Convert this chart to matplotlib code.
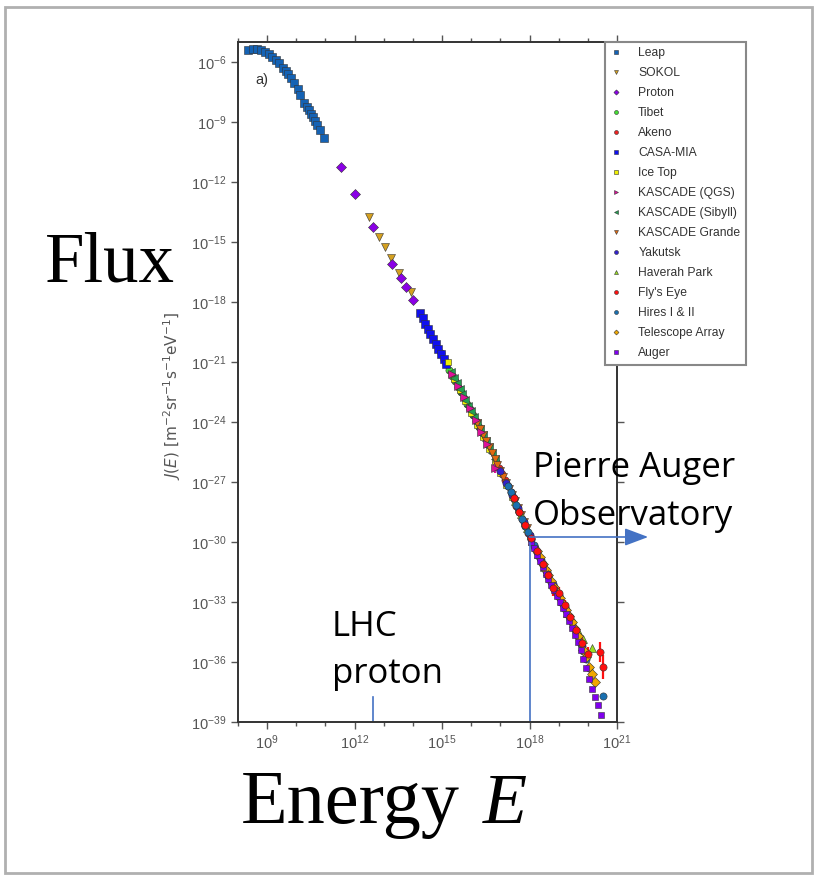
import numpy as np
import matplotlib.pyplot as plt
from matplotlib.patches import Rectangle
from matplotlib.ticker import FixedLocator, NullFormatter, LogFormatterSciNotation

leap_E = [8.35, 8.50, 8.64, 8.78, 8.93, 9.06, 9.18, 9.29, 9.41, 9.54, 9.64, 9.73, 9.82,
          9.93, 10.05, 10.14, 10.28, 10.36, 10.44, 10.51, 10.57, 10.64, 10.71, 10.80, 10.94]
leap_J = [-5.40, -5.35, -5.35, -5.40, -5.48, -5.60, -5.73, -5.90, -6.07, -6.28, -6.43, -6.62, -6.82,
          -7.07, -7.37, -7.65, -8.03, -8.23, -8.40, -8.60, -8.77, -8.95, -9.15, -9.40, -9.82]

sokol_E = [12.49, 12.85, 13.05, 13.24, 13.53, 13.92]
sokol_J = [-13.77, -14.73, -15.25, -15.78, -16.57, -17.48]

proton_E = [11.52, 12.03, 12.62, 13.29, 13.60, 13.75, 14.01]
proton_J = [-11.23, -12.60, -14.27, -16.09, -16.80, -17.25, -17.92]

tibet_E = [14.95, 15.05, 15.15, 15.25, 15.35, 15.45, 15.55, 15.65, 15.75, 15.85, 15.95, 16.05, 16.15, 16.25]
tibet_J = [-20.56, -20.84, -21.12, -21.40, -21.68, -21.96, -22.24, -22.52, -22.80, -23.08, -23.36, -23.65, -23.95, -24.25]

akeno_E = [16.85, 16.95, 17.05, 17.15, 17.25, 17.35, 17.45, 17.55, 17.65, 17.75, 17.85, 17.95,
           18.05, 18.15, 18.25, 18.35, 18.45, 18.55, 18.65]
akeno_J = [-26.02, -26.32, -26.62, -26.92, -27.22, -27.52, -27.84, -28.18, -28.52, -28.86, -29.20, -29.54,
           -29.86, -30.18, -30.50, -30.82, -31.14, -31.44, -31.72]

casa_E = [14.24, 14.33, 14.42, 14.51, 14.60, 14.69, 14.78, 14.87, 14.96, 15.05, 15.14]
casa_J = [-18.57, -18.82, -19.08, -19.33, -19.58, -19.83, -20.08, -20.34, -20.59, -20.84, -21.09]

icetop_E = [15.21, 15.4, 15.6, 15.8, 16.0, 16.2, 16.4, 16.6, 16.8, 17.0, 17.2, 17.4, 17.6, 17.8, 18.0]
icetop_J = [-20.98, -21.85, -22.41, -22.97, -23.53, -24.13, -24.73, -25.33, -25.93, -26.53, -27.13,
            -27.73, -28.37, -29.05, -29.72]

kqgs_E = [15.35, 15.55, 15.75, 15.95, 16.15, 16.35, 16.55, 16.82]
kqgs_J = [-21.62, -22.18, -22.74, -23.30, -23.90, -24.50, -25.10, -26.30]
kqgs_err = [0.05, 0.05, 0.05, 0.05, 0.05, 0.05, 0.1, 0.25]

ksib_E = [15.3, 15.4, 15.5, 15.6, 15.7, 15.8, 15.9, 16.0, 16.1, 16.2, 16.3, 16.4, 16.5, 16.6, 16.7, 16.8]
ksib_J = [-21.50, -21.78, -22.06, -22.34, -22.62, -22.90, -23.18, -23.46, -23.76, -24.06, -24.36,
          -24.66, -24.96, -25.26, -25.56, -25.86]

kgrande_E = [16.2, 16.3, 16.4, 16.5, 16.6, 16.7, 16.8, 16.9, 17.0, 17.1, 17.2, 17.3, 17.4, 17.5,
             17.6, 17.7, 17.8, 17.9]
kgrande_J = [-24.05, -24.35, -24.65, -24.95, -25.25, -25.55, -25.85, -26.15, -26.45, -26.75, -27.05,
             -27.35, -27.65, -27.95, -28.30, -28.64, -28.98, -29.32]

yakutsk_E = [17.0, 17.2, 17.4, 17.6, 17.8, 18.0, 18.2, 18.4, 18.6, 18.8, 19.0, 19.2, 19.4, 19.6, 19.8]
yakutsk_J = [-26.45, -27.05, -27.65, -28.30, -28.98, -29.65, -30.28, -30.92, -31.52, -32.08, -32.64,
             -33.24, -33.84, -34.50, -35.20]

haverah_E = [17.5, 17.7, 17.9, 18.1, 18.3, 18.5, 18.7, 18.9, 19.1, 19.3, 19.5, 19.7, 19.85, 20.13]
haverah_J = [-27.95, -28.62, -29.30, -29.96, -30.60, -31.24, -31.80, -32.36, -32.94, -33.54, -34.05,
             -34.55, -34.85, -35.30]

flyseye_E = [17.45, 17.65, 17.85, 18.05, 18.25, 18.45, 18.65, 18.80, 19.00, 19.20, 19.40, 19.60, 19.80, 20.00, 20.40, 20.53]
flyseye_J = [-27.80, -28.48, -29.16, -29.80, -30.44, -31.08, -31.66, -32.30, -32.55, -33.15, -33.75,
             -34.40, -35.05, -35.60, -35.48, -36.23]
flyseye_err = [0.05, 0.05, 0.05, 0.05, 0.08, 0.1, 0.15, 0.4, 0.3, 0.25, 0.25, 0.25, 0.25, 0.35, 0.5, 0.6]

hires_E = [17.25, 17.35, 17.45, 17.55, 17.65, 17.75, 17.85, 17.95, 18.05, 18.15, 18.25, 18.35, 18.45,
           18.55, 18.65, 18.75, 18.85, 18.95, 19.05, 19.15, 19.25, 19.35, 19.45, 19.55, 19.65, 19.75,
           19.85, 19.95, 20.05, 20.53]
hires_J = [-27.20, -27.50, -27.82, -28.16, -28.50, -28.84, -29.18, -29.52, -29.84, -30.16, -30.48, -30.80,
           -31.12, -31.42, -31.70, -31.98, -32.26, -32.54, -32.82, -33.12, -33.42, -33.72, -34.02, -34.36,
           -34.72, -35.08, -35.45, -35.85, -36.30, -37.70]

ta_E = [18.25, 18.35, 18.45, 18.55, 18.65, 18.75, 18.85, 18.95, 19.05, 19.15, 19.25, 19.35, 19.45,
        19.55, 19.65, 19.75, 19.85, 19.95, 20.05, 20.15, 20.25]
ta_J = [-30.45, -30.77, -31.09, -31.39, -31.67, -31.95, -32.23, -32.51, -32.80, -33.10, -33.40, -33.70,
        -34.00, -34.33, -34.69, -35.05, -35.41, -35.77, -36.25, -36.60, -37.00]

auger_E = [18.05, 18.15, 18.25, 18.35, 18.45, 18.55, 18.65, 18.75, 18.85, 18.95, 19.05, 19.15, 19.25,
           19.35, 19.45, 19.55, 19.65, 19.75, 19.85, 19.95, 20.05, 20.15, 20.25, 20.36, 20.45]
auger_J = [-30.00, -30.32, -30.64, -30.95, -31.27, -31.58, -31.86, -32.14, -32.42, -32.70, -33.00, -33.30,
           -33.62, -33.94, -34.28, -34.64, -35.02, -35.42, -35.85, -36.30, -36.85, -37.35, -37.75, -38.15, -38.65]

# reference energies for the overlay
lhc_E = 10 ** 12.64
auger_start_E = 1e18
auger_start_J = 10 ** -29.75

W, H = 817, 875
fig = plt.figure(figsize=(W / 100, H / 100), dpi=100)
plt.rcParams['font.family'] = ['Liberation Sans', 'DejaVu Sans']

ax = fig.add_axes([238 / W, 1 - 722 / H, (617 - 238) / W, (722 - 42) / H])
handles, labels = [], []


def draw(E, J, label, marker, color, ms=5.2, err=None):
    x = 10 ** np.array(E)
    y = 10 ** np.array(J)
    if err is None:
        h, = ax.plot(x, y, ls='none', marker=marker, ms=ms, color=color, mec='#333333', mew=0.4)
    else:
        e = np.array(err)
        yerr = [y - 10 ** (np.array(J) - e), 10 ** (np.array(J) + e) - y]
        cont = ax.errorbar(x, y, yerr=yerr, ls='none', marker=marker, ms=ms, color=color, mec='#333333',
                           mew=0.4, ecolor=color, elinewidth=1.6, capsize=0)
        h = cont[0]
    handles.append(h)
    labels.append(label)


draw(leap_E, leap_J, 'Leap', 's', '#1462b4', ms=5.6)
draw(sokol_E, sokol_J, 'SOKOL', 'v', '#d4a020')
draw(proton_E, proton_J, 'Proton', 'D', '#8a00e6', ms=4.8)
draw(tibet_E, tibet_J, 'Tibet', 'o', '#44dd33')
draw(akeno_E, akeno_J, 'Akeno', 'o', '#ee2222')
draw(casa_E, casa_J, 'CASA-MIA', 's', '#1010ee')
draw(icetop_E, icetop_J, 'Ice Top', 's', '#eeee00', ms=4.6)
draw(kqgs_E, kqgs_J, 'KASCADE (QGS)', '>', '#dd1199', err=kqgs_err)
draw(ksib_E, ksib_J, 'KASCADE (Sibyll)', '<', '#22a050')
draw(kgrande_E, kgrande_J, 'KASCADE Grande', 'v', '#e06a10')
draw(yakutsk_E, yakutsk_J, 'Yakutsk', 'o', '#3322cc')
draw(haverah_E, haverah_J, 'Haverah Park', '^', '#99dd22')
draw(flyseye_E, flyseye_J, "Fly's Eye", 'o', '#ff1010', err=flyseye_err)
draw(hires_E, hires_J, 'Hires I & II', 'o', '#1a70b0')
draw(ta_E, ta_J, 'Telescope Array', 'D', '#f0a800', ms=4.6)
draw(auger_E, auger_J, 'Auger', 's', '#8000ee', ms=5.0)

ax.set_xscale('log')
ax.set_yscale('log')
ax.set_xlim(1e8, 1e21)
ax.set_ylim(1e-39, 1e-5)

ax.xaxis.set_major_locator(FixedLocator([10.0 ** k for k in range(9, 22, 3)]))
ax.xaxis.set_minor_locator(FixedLocator([10.0 ** k for k in range(8, 22) if k % 3 != 0]))
ax.yaxis.set_major_locator(FixedLocator([10.0 ** k for k in range(-39, -5, 3)]))
ax.yaxis.set_minor_locator(FixedLocator([]))
ax.xaxis.set_major_formatter(LogFormatterSciNotation())
ax.yaxis.set_major_formatter(LogFormatterSciNotation())
ax.xaxis.set_minor_formatter(NullFormatter())

ax.tick_params(which='both', direction='out', top=True, right=True, color='#555555',
               labelcolor='#555555', labelsize=10.5, width=1)
ax.tick_params(which='major', length=5)
ax.tick_params(which='minor', length=3)
for s in ax.spines.values():
    s.set_color('#333333')
    s.set_linewidth(1.4)

ax.set_ylabel(r'$J(E)\ \left[\mathrm{m^{-2}sr^{-1}s^{-1}eV^{-1}}\right]$', color='#555555', fontsize=11)
ax.yaxis.set_label_coords(-0.145, 0.48)
ax.text(0.045, 0.944, 'a)', transform=ax.transAxes, fontsize=10.5, color='#333333', va='center')

leg = ax.legend(handles, labels, loc='upper left', bbox_to_anchor=(605 / W, 1 - 42 / H),
                bbox_transform=fig.transFigure, fancybox=False, edgecolor='#888888', fontsize=8.7,
                markerscale=0.55, numpoints=1, handlelength=0.9, handletextpad=1.4, labelspacing=0.66,
                borderpad=0.45, borderaxespad=0, framealpha=1)
leg.get_frame().set_linewidth(1.5)
for t in leg.get_texts():
    t.set_color('#333333')

# overlay: Auger threshold, LHC energy
blue = '#4472c4'
ax.plot([auger_start_E, auger_start_E], [1e-39, auger_start_J], color=blue, lw=1.2, clip_on=False)
ax.annotate('', xy=(10 ** 22.07, auger_start_J), xytext=(auger_start_E, auger_start_J),
            arrowprops=dict(arrowstyle='-|>,head_length=0.8,head_width=0.3', mutation_scale=18,
                            color=blue, lw=1.2, shrinkA=0, shrinkB=0),
            annotation_clip=False)
ax.plot([lhc_E, lhc_E], [1e-39, 10 ** -37.75], color=blue, lw=1.2)

fig.text(45 / W, 1 - 282 / H, 'Flux', fontsize=51, family='Liberation Serif', va='baseline')
fig.text(241 / W, 1 - 823 / H, 'Energy', fontsize=55, family='Liberation Serif', va='baseline')
fig.text(483 / W, 1 - 823 / H, 'E', fontsize=52, family='Liberation Serif', style='italic', va='baseline')
fig.text(332 / W, 1 - 636 / H, 'LHC', fontsize=25, family='Open Sans', va='baseline')
fig.text(332 / W, 1 - 683 / H, 'proton', fontsize=25, family='Open Sans', va='baseline')
fig.text(533 / W, 1 - 477 / H, 'Pierre Auger', fontsize=25, family='Open Sans', va='baseline')
fig.text(533 / W, 1 - 525 / H, 'Observatory', fontsize=25, family='Open Sans', va='baseline')

fig.patches.append(Rectangle((5 / W, 2 / H), 807 / W, 866 / H, transform=fig.transFigure,
                             fill=False, ec='#b0b0b0', lw=2))

fig.savefig('out.png', dpi=100)
